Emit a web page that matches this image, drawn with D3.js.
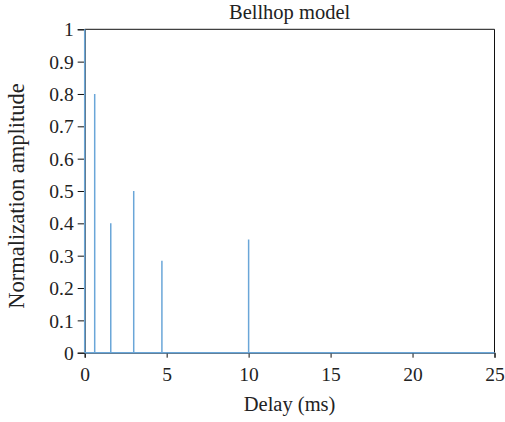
<!DOCTYPE html>
<html><head><meta charset="utf-8">
<script src="https://cdn.jsdelivr.net/npm/d3@7"></script>
<style>body{margin:0;background:#fff}svg{display:block}text{font-family:"Liberation Serif","DejaVu Serif",serif;fill:#222}</style>
</head><body>
<svg id="c" width="505" height="422"></svg>
<script>
const delays = [0, 0.61, 1.59, 2.99, 4.71, 10.0];
const amplitudes = [1.0, 0.8, 0.4, 0.5, 0.284, 0.35];
const xTicks = [0, 5, 10, 15, 20, 25];
const yTicks = [0, 0.1, 0.2, 0.3, 0.4, 0.5, 0.6, 0.7, 0.8, 0.9, 1];
const title = "Bellhop model";
const xLabel = "Delay (ms)";
const yLabel = "Normalization amplitude";

const m = {l: 84.7, r: 494.5, t: 29.3, b: 352.7};
const svg = d3.select("#c");
const x = d3.scaleLinear().domain([0, 25]).range([m.l, m.r]);
const y = d3.scaleLinear().domain([0, 1]).range([m.b, m.t]);

svg.append("line").attr("x1", m.l).attr("x2", m.r).attr("y1", m.t).attr("y2", m.t).attr("stroke", "#111").attr("stroke-width", 1);
svg.append("line").attr("x1", m.r).attr("x2", m.r).attr("y1", m.t).attr("y2", m.b).attr("stroke", "#111").attr("stroke-width", 1);

const fmt = d => d === 0 ? "0" : d === 1 ? "1" : d3.format(".1f")(d);
const gx = svg.append("g").attr("transform", `translate(0,${m.b})`)
  .call(d3.axisBottom(x).tickValues(xTicks).tickSize(5).tickPadding(9).tickFormat(d3.format("d")));
const gy = svg.append("g").attr("transform", `translate(${m.l},0)`)
  .call(d3.axisLeft(y).tickValues(yTicks).tickSize(7).tickPadding(4).tickFormat(fmt));
[gx, gy].forEach(g => {
  g.attr("font-size", null).attr("font-family", null);
  g.selectAll("path").attr("stroke", "#111");
  g.selectAll("line").attr("stroke", "#111");
  g.selectAll("text").style("font-size", "19.5px").attr("fill", "#222");
});
gy.selectAll("text").attr("dy", "0.34em");
gx.selectAll("text").attr("dy", "0.71em");

const blue = "#6aa6d8";
svg.append("line").attr("x1", x(0)).attr("x2", x(25)).attr("y1", y(0)).attr("y2", y(0)).attr("stroke", blue).attr("stroke-width", 1.5);
svg.append("g").selectAll("line").data(delays).join("line")
  .attr("x1", d => x(d)).attr("x2", d => x(d))
  .attr("y1", y(0)).attr("y2", (d, i) => y(amplitudes[i]))
  .attr("stroke", blue).attr("stroke-width", 1.5);

svg.append("text").attr("x", (m.l + m.r) / 2).attr("y", 19).attr("text-anchor", "middle").style("font-size", "20.5px").text(title);
svg.append("text").attr("x", (m.l + m.r) / 2).attr("y", 411).attr("text-anchor", "middle").style("font-size", "20.5px").text(xLabel);
svg.append("text").attr("transform", `translate(24,196) rotate(-90)`).attr("text-anchor", "middle").style("font-size", "22.5px").text(yLabel);
</script>
</body></html>
